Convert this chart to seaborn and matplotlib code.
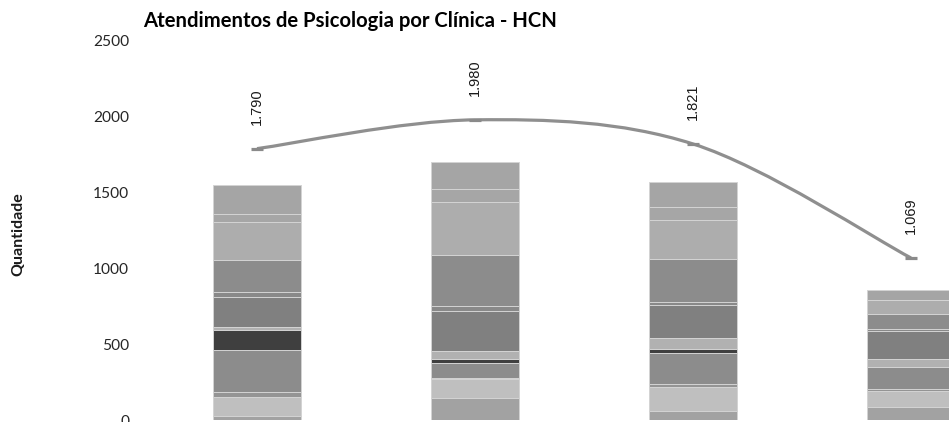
import numpy as np
import pandas as pd
import matplotlib
matplotlib.use("Agg")
import matplotlib.pyplot as plt
import seaborn as sns
from matplotlib.path import Path
from matplotlib.patches import PathPatch

# ---- data -------------------------------------------------------------
periodos = ["Período 1", "Período 2", "Período 3", "Período 4"]
clinicas = ["Clínica 1", "Clínica 2", "Clínica 3", "Clínica 4", "Clínica 5", "Clínica 6",
            "Clínica 7", "Clínica 8", "Clínica 9", "Clínica 10", "Clínica 11", "Clínica 12"]
# values per clinic (bottom to top of the stack), one per period
c01 = [26, 143, 57, 84]
c02 = [128, 125, 163, 107]
c03 = [29, 8, 17, 13]
c04 = [279, 98, 207, 144]
c05 = [130, 26, 24, 0]
c06 = [23, 55, 75, 54]
c07 = [194, 262, 216, 185]
c08 = [33, 33, 17, 11]
c09 = [211, 340, 288, 101]
c10 = [251, 348, 255, 93]
c11 = [55, 84, 88, 0]
c12 = [191, 178, 161, 66]
total_atend = [1790, 1980, 1821, 1069]

series = [c01, c02, c03, c04, c05, c06, c07, c08, c09, c10, c11, c12]
cores = ["#a2a2a2", "#bfbfbf", "#949494", "#8c8c8c", "#3f3f3f", "#b1b1b1",
         "#808080", "#898989", "#8c8c8c", "#adadad", "#a6a6a6", "#a5a5a5"]

# ---- figure -----------------------------------------------------------
sns.set_theme(style="white")
plt.rcParams["font.family"] = ["Lato", "DejaVu Sans"]

W, H = 949, 422
fig = plt.figure(figsize=(W / 100, H / 100), dpi=100)
left_px, spacing = 148, 218
ax = fig.add_axes([left_px / W, 2 / H, 4 * spacing / W, (420 - 41) / H])

df = pd.DataFrame({"periodo": periodos})
cum = np.zeros(len(periodos))
cums = []
for s in series:
    cum = cum + np.array(s)
    cums.append(cum.copy())

# draw cumulative layers from top to bottom so each layer shows its own segment
for i in range(len(series) - 1, -1, -1):
    df["valor"] = cums[i]
    sns.barplot(data=df, x="periodo", y="valor", order=periodos, color=cores[i],
                width=0.4, edgecolor="#d4d4d4", linewidth=0.7, saturation=1,
                ax=ax, errorbar=None)

# smoothed total line (Excel-like bezier smoothing through the data points)
xs = np.arange(len(periodos), dtype=float)
ys = np.array(total_atend, dtype=float)
verts = [(xs[0], ys[0])]
codes = [Path.MOVETO]
n = len(xs)
for i in range(n - 1):
    p0 = np.array([xs[max(i - 1, 0)], ys[max(i - 1, 0)]])
    p1 = np.array([xs[i], ys[i]])
    p2 = np.array([xs[i + 1], ys[i + 1]])
    p3 = np.array([xs[min(i + 2, n - 1)], ys[min(i + 2, n - 1)]])
    c1 = p1 + (p2 - p0) / 6.0
    c2 = p2 - (p3 - p1) / 6.0
    verts += [tuple(c1), tuple(c2), tuple(p2)]
    codes += [Path.CURVE4] * 3
patch = PathPatch(Path(verts, codes), facecolor="none", edgecolor="#8f8f8f",
                  linewidth=2.3, capstyle="butt", zorder=5)
ax.add_patch(patch)
ax.plot(xs, ys, linestyle="none", marker="_", markersize=9, markeredgewidth=2.3,
        color="#8a8a8a", zorder=6)

for x, v in zip(xs, total_atend):
    lab = f"{v:,}".replace(",", ".")
    ax.annotate(lab, (x, v), xytext=(0, 17), textcoords="offset points",
                rotation=90, ha="center", va="bottom", fontsize=10.5,
                family=["Liberation Sans", "DejaVu Sans"], color="#1a1a1a")

ax.set_xlim(-0.5, 3.5)
ax.set_ylim(0, 2500)
ax.set_yticks([0, 500, 1000, 1500, 2000, 2500])
ax.set_yticklabels(["0", "500", "1000", "1500", "2000", "2500"])
ax.tick_params(axis="y", length=0, pad=13.5, labelsize=11.2, labelcolor="#262626")
ax.tick_params(axis="x", length=0, labelbottom=False)
ax.set_xlabel("")
ax.set_ylabel("")
for sp in ax.spines.values():
    sp.set_visible(False)
ax.grid(False)

fig.text(18 / W, 1 - 234 / H, "Quantidade", rotation=90, ha="center", va="center",
         fontsize=11.5, fontweight="bold", color="#1a1a1a")
fig.text(143 / W, 1 - 27 / H, "Atendimentos de Psicologia por Clínica - HCN",
         ha="left", va="baseline", fontsize=14.6, fontweight="bold", color="#000000")

fig.savefig("out.png", dpi=100)
